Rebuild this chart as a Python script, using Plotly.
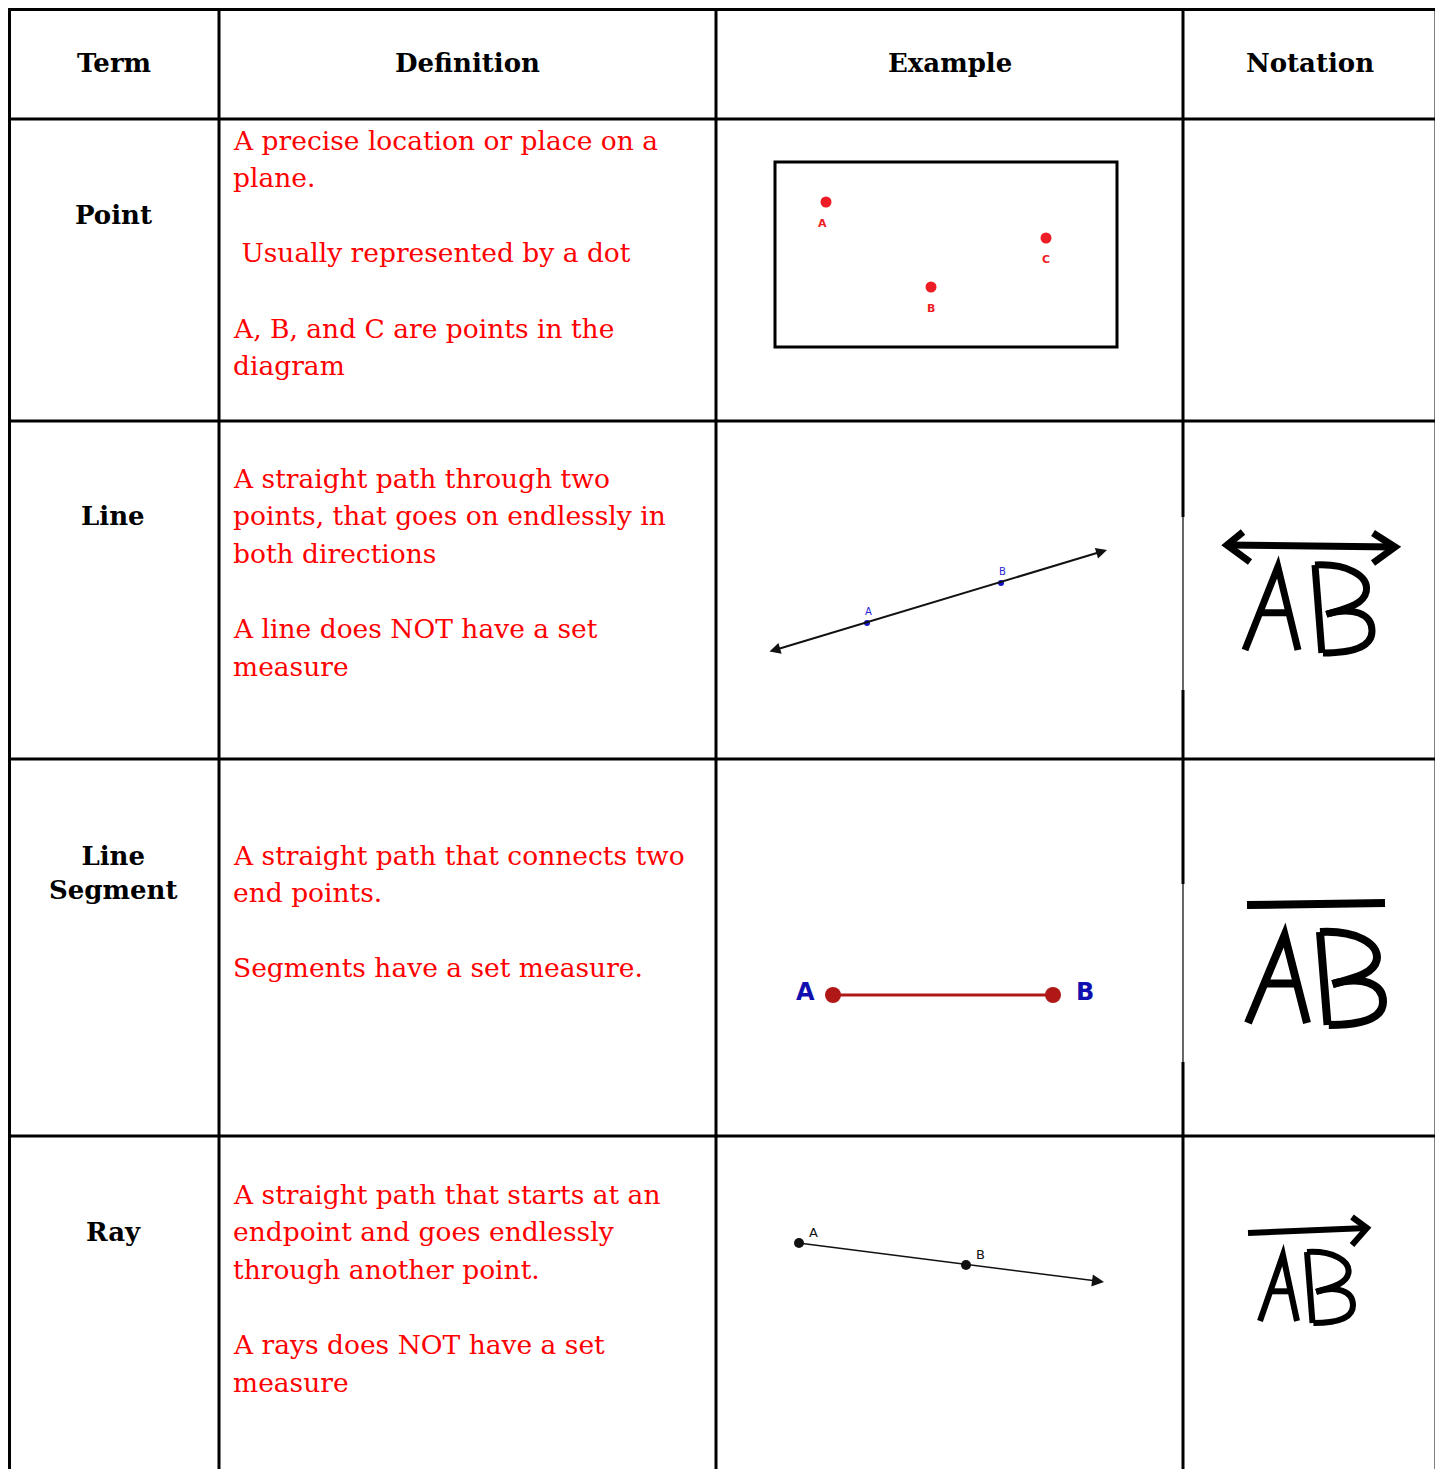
import plotly.graph_objects as go

# ---------------------------------------------------------------------------
# table content
# ---------------------------------------------------------------------------
headers = ["Term", "Definition", "Example", "Notation"]
terms = ["Point", "Line", "Line<br>Segment", "Ray"]
definitions = [
    ["A precise location or place on a", "plane.", "",
     " Usually represented by a dot", "", "A, B, and C are points in the", "diagram"],
    ["A straight path through two", "points, that goes on endlessly in",
     "both directions", "", "A line does NOT have a set", "measure"],
    ["A straight path that connects two", "end points.", "",
     "Segments have a set measure."],
    ["A straight path that starts at an", "endpoint and goes endlessly",
     "through another point.", "", "A rays does NOT have a set", "measure"],
]
def_first_line = [140, 478, 855, 1194]   # y of first line in each row

# example diagrams: point labels and positions
point_labels = ["A", "B", "C"]
point_x = [826, 931, 1046]
point_y = [202, 287, 238]

line_labels = ["A", "B"]
line_x = [867, 1001]
line_y = [623, 583]

seg_labels = ["A", "B"]
seg_x = [833, 1053]
seg_y = [995, 995]

ray_labels = ["A", "B"]
ray_x = [799, 966]
ray_y = [1243, 1265]

# grid geometry (outer left/top lines sit at the page edge)
col_x = [9.5, 219, 716, 1183, 1436]
row_y = [9.5, 119, 421, 759, 1136]
W, H = 1443, 1469
OFF = 8          # page body margin of the html page
LINE_H = 37.6
RED = "#ff0000"
SERIF = "DejaVu Serif"

fig = go.Figure()
shapes = []
ann = []

# ---------------------------------------------------------------------------
# grid lines
# ---------------------------------------------------------------------------
for y in row_y:
    shapes.append(dict(type="line", x0=col_x[0] - 1.5, x1=col_x[-1] + 1.5, y0=y, y1=y,
                       line=dict(color="black", width=3)))
for i, x in enumerate(col_x):
    if i == 3:
        # notation pictures overlap the border -> thinner bits there
        segs = [(row_y[0], 517, 3), (517, 690, 1.2), (690, 884, 3),
                (884, 1062, 1.2), (1062, H + OFF, 3)]
    else:
        segs = [(row_y[0] - 1.5, H + OFF, 3)]
    for y0, y1, w in segs:
        shapes.append(dict(type="line", x0=x, x1=x, y0=y0, y1=y1,
                           line=dict(color="black", width=w)))

# ---------------------------------------------------------------------------
# text
# ---------------------------------------------------------------------------
for i, h in enumerate(headers):
    ann.append(dict(x=(col_x[i] + col_x[i + 1]) / 2, y=63, text="<b>%s</b>" % h,
                    showarrow=False, xanchor="center", yanchor="middle",
                    font=dict(family=SERIF, size=26, color="black")))

term_y = [215, 516, 873, 1232]
for t, y in zip(terms, term_y):
    ann.append(dict(x=113, y=y, text="<b>%s</b>" % t, showarrow=False,
                    xanchor="center", yanchor="middle",
                    font=dict(family=SERIF, size=26, color="black")))

for lines, y0 in zip(definitions, def_first_line):
    for k, txt in enumerate(lines):
        if not txt:
            continue
        if txt.startswith(" "):
            txt = "&nbsp;" + txt[1:]
        ann.append(dict(x=231, y=y0 + k * LINE_H, text=txt,
                        showarrow=False, xanchor="left", yanchor="middle",
                        font=dict(family=SERIF, size=26.5, color=RED)))

# ---------------------------------------------------------------------------
# example column
# ---------------------------------------------------------------------------
# point box
shapes.append(dict(type="rect", x0=775, x1=1117, y0=162, y1=347,
                   line=dict(color="black", width=3)))
fig.add_trace(go.Scatter(x=point_x, y=point_y, mode="markers",
                         marker=dict(color="#ee1c24", size=11)))
for lab, x, y in zip(point_labels, point_x, point_y):
    ann.append(dict(x=x - (4 if lab == "A" else 0), y=y + 21, text="<b>%s</b>" % lab,
                    showarrow=False, font=dict(family="DejaVu Sans", size=11, color="#ee1c24")))

# line with arrows at both ends
ann.append(dict(x=1107, y=550, ax=768, ay=652, xref="x", yref="y", axref="x", ayref="y",
                text="", showarrow=True, arrowside="end+start", arrowhead=2,
                arrowsize=1.1, arrowwidth=2, arrowcolor="#111"))
fig.add_trace(go.Scatter(x=line_x, y=line_y, mode="markers",
                         marker=dict(color="#1515c8", size=6)))
for lab, x, y in zip(line_labels, line_x, line_y):
    ann.append(dict(x=x + 1, y=y - 12, text=lab, showarrow=False,
                    font=dict(family="DejaVu Sans", size=10, color="#2525d0")))

# segment
fig.add_trace(go.Scatter(x=seg_x, y=seg_y, mode="lines+markers",
                         line=dict(color="#b01818", width=3),
                         marker=dict(color="#b01818", size=16)))
for lab, x, y in zip(seg_labels, seg_x, seg_y):
    ann.append(dict(x=x + (-28 if lab == "A" else 32), y=y - 3, text="<b>%s</b>" % lab,
                    showarrow=False,
                    font=dict(family="DejaVu Sans", size=24, color="#1010b0")))

# ray
ann.append(dict(x=1104, y=1282, ax=ray_x[0], ay=ray_y[0], xref="x", yref="y",
                axref="x", ayref="y", text="", showarrow=True, arrowhead=2,
                arrowsize=1.6, arrowwidth=1.5, arrowcolor="#111"))
fig.add_trace(go.Scatter(x=ray_x, y=ray_y, mode="markers",
                         marker=dict(color="#111", size=10, symbol="circle")))
for lab, x, y in zip(ray_labels, ray_x, ray_y):
    ann.append(dict(x=x + 14, y=y - 11, text=lab, showarrow=False,
                    font=dict(family="DejaVu Sans", size=13, color="#111")))

# ---------------------------------------------------------------------------
# notation column: hand drawn "AB" glyphs
# ---------------------------------------------------------------------------
def glyph_a(x0, y0, w, h):
    return ["M %f,%f L %f,%f L %f,%f" % (x0, y0 + h, x0 + 0.62 * w, y0, x0 + w, y0 + h),
            "M %f,%f L %f,%f" % (x0 + 0.24 * w, y0 + 0.55 * h, x0 + 0.86 * w, y0 + 0.55 * h)]


def glyph_b(x0, y0, w, h):
    p = lambda fx, fy: "%f,%f" % (x0 + fx * w, y0 + fy * h)
    return ["M %s L %s" % (p(0, 0), p(0.12, 1)),
            "M %s C %s %s %s C %s %s %s" % (p(0, 0), p(0.55, -0.02), p(0.95, 0.12), p(0.9, 0.3),
                                            p(0.85, 0.46), p(0.5, 0.5), p(0.2, 0.56)),
            "M %s C %s %s %s C %s %s %s" % (p(0.2, 0.56), p(0.65, 0.47), p(1.0, 0.55), p(1.0, 0.75),
                                            p(1.0, 0.96), p(0.55, 1.0), p(0.14, 1.0))]


notation = [
    # (A box, B box, overbar paths, stroke width)
    ((1245, 567, 53, 83), (1315, 565, 57, 88),
     ["M 1227,545 L 1395,547", "M 1243,532 L 1227,545 L 1250,562",
      "M 1373,533 L 1395,547 L 1373,563"], 7),
    ((1248, 935, 59, 88), (1320, 932, 63, 93),
     ["M 1247,905 L 1385,903"], 8),
    ((1260, 1255, 37, 66), (1307, 1252, 46, 71),
     ["M 1248,1233 L 1367,1228", "M 1352,1217 L 1367,1228 L 1352,1245"], 6),
]
for abox, bbox, bar, lw in notation:
    for path in glyph_a(*abox) + glyph_b(*bbox) + bar:
        shapes.append(dict(type="path", path=path, line=dict(color="black", width=lw)))

fig.update_layout(
    width=W, height=H, margin=dict(l=0, r=0, t=0, b=0),
    paper_bgcolor="white", plot_bgcolor="white", showlegend=False,
    xaxis=dict(range=[OFF, W + OFF], visible=False, fixedrange=True),
    yaxis=dict(range=[H + OFF, OFF], visible=False, fixedrange=True),
    shapes=shapes, annotations=ann,
)
fig.write_html("out.html")
